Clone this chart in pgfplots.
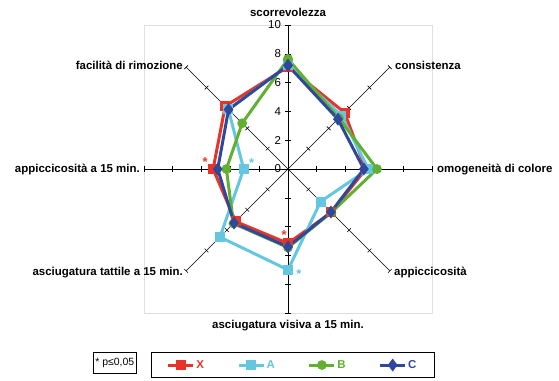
\documentclass[border=0pt]{standalone}
\usepackage{pgfplots}
\pgfplotsset{compat=1.18}
\usepackage{fontspec}
\setmainfont{Liberation Sans}

\definecolor{cX}{RGB}{232,52,38}
\definecolor{cA}{RGB}{100,198,224}
\definecolor{cB}{RGB}{98,176,50}
\definecolor{cC}{RGB}{48,72,156}

\begin{document}
\begin{tikzpicture}
% spokes with tick marks (axis origin sits at 288bp, 210.96bp)
\begin{scope}[shift={(288bp,210.96bp)}, line width=0.6bp]
  \draw[black!12] (-144bp,-144bp) rectangle (144bp,144bp);
  \foreach \a in {0,45,...,315}{
    \draw (0,0) -- (\a:144bp);
    \foreach \r in {28.8,57.6,86.4,115.2,144}{
      \draw (\a:\r bp) ++({\a+90}:2.6bp) -- ++({\a-90}:5.2bp);
    }
  }
  % value labels on the vertical spoke
  \foreach \v [evaluate=\v as \yy using \v*14.4] in {0,2,4,6,8,10}{
    \node[anchor=east, font=\fontsize{11.5}{13}\selectfont, inner sep=0pt]
      at (-6.8bp,\yy bp) {\v};
  }
\end{scope}
\begin{axis}[
    at={(0,0)}, anchor=south west,
    x=14.4bp, y=14.4bp,
    xmin=-20, xmax=18.82, ymin=-14.65, ymax=11.74,
    hide axis, clip=false,
    legend columns=4,
    legend style={at={(axis cs:0.31,-13.61)}, anchor=center,
        draw=black, line width=0.6bp, inner xsep=16bp, inner ysep=5.5bp,
        font=\fontsize{11.5}{13}\selectfont\bfseries,
        nodes={inner xsep=1.5bp},
        /tikz/every even column/.append style={column sep=31.5bp}},
    legend image code/.code={%
        \draw[mark repeat=2,mark phase=2,#1]
        plot coordinates {(0bp,0bp) (12.5bp,0bp) (25bp,0bp)};},
    every axis plot/.append style={line width=3bp, data cs=polar},
]
\path (axis cs:-20,-14.65) rectangle (axis cs:18.82,11.74);

% X
\addplot[cX, mark=square*, mark size=3.5bp] coordinates {
  (90,7.1) (45,5.55) (0,5.4) (-45,4.26) (-90,5.16) (-135,5.15) (180,5.2) (135,6.17) (90,7.1)
};
% A
\addplot[cA, mark=square*, mark size=3.5bp] coordinates {
  (90,7.2) (45,5.25) (0,5.58) (-45,3.2) (-90,7.0) (-135,6.68) (180,3.08) (135,5.85) (90,7.2)
};
% B
\addplot[cB, mark=*, mark size=3.3bp] coordinates {
  (90,7.64) (45,5.0) (0,6.18) (-45,4.26) (-90,5.45) (-135,5.35) (180,4.28) (135,4.5) (90,7.64)
};
% C
\addplot[cC, mark=diamond*, mark size=4bp] coordinates {
  (90,7.2) (45,4.9) (0,5.27) (-45,4.22) (-90,5.4) (-135,5.3) (180,4.88) (135,5.84) (90,7.2)
};
\addlegendentry{\textcolor{cX}{X}}
\addlegendentry{\textcolor{cA}{A}}
\addlegendentry{\textcolor{cB}{B}}
\addlegendentry{\textcolor{cC}{C}}

% category labels
\begin{scope}[every node/.style={font=\fontsize{11.5}{13}\selectfont\bfseries, inner sep=0pt}]
  \node[anchor=center] at (axis cs:0,10.9) {scorrevolezza};
  \node[anchor=west] at (axis cs:7.43,7.22) {consistenza};
  \node[anchor=west] at (axis cs:10.35,0) {omogeneità di colore};
  \node[anchor=west] at (axis cs:7.36,-7.15) {appiccicosità};
  \node[anchor=center] at (axis cs:0,-10.9) {asciugatura visiva a 15 min.};
  \node[anchor=east] at (axis cs:-7.29,-7.22) {asciugatura tattile a 15 min.};
  \node[anchor=east] at (axis cs:-10.28,0) {appiccicosità a 15 min.};
  \node[anchor=east] at (axis cs:-7.29,7.22) {facilità di rimozione};
\end{scope}

% significance marks
\begin{scope}[every node/.style={font=\fontsize{13}{13}\selectfont\bfseries, inner sep=0pt, anchor=center}]
  \node[cX] at (axis cs:-5.76,0.51) {*};
  \node[cA] at (axis cs:-2.52,0.45) {*};
  \node[cX] at (axis cs:-0.26,-4.58) {*};
  \node[cA] at (axis cs:0.76,-7.26) {*};
\end{scope}

\node[draw=black, line width=0.6bp, inner xsep=2bp, minimum height=20.6bp,
      font=\fontsize{10.5}{12}\selectfont] at (axis cs:-12.03,-13.47) {* p≤0,05};
\end{axis}
\end{tikzpicture}
\end{document}
